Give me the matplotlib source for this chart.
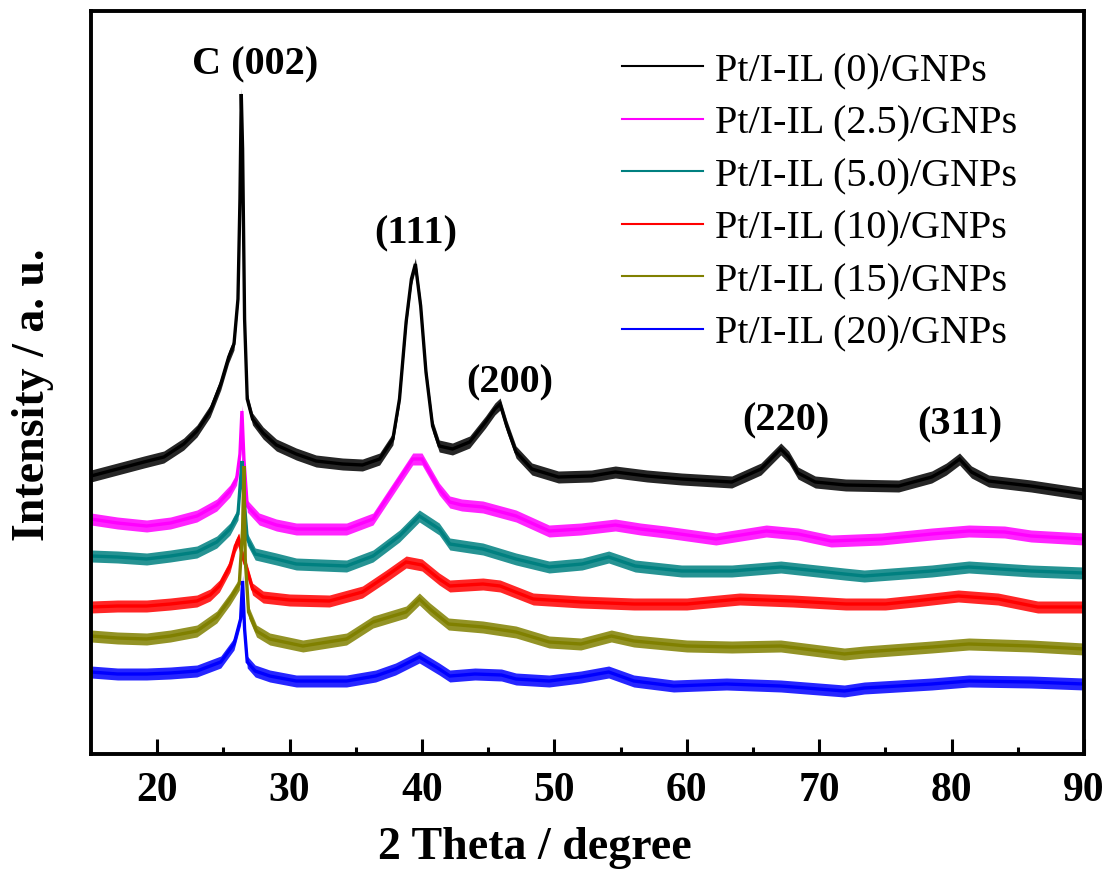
import numpy as np
import matplotlib.pyplot as plt
from matplotlib.lines import Line2D

# XRD patterns, intensity in arbitrary units (traces already offset)
theta_0 = [15.0, 17.0, 19.0, 20.5, 22.0, 23.0, 24.0, 24.8, 25.4, 25.8, 26.1, 26.25, 26.35, 26.45,
           26.6, 26.8, 27.2, 28.0, 29.0, 30.5, 32.0, 34.0, 35.5, 36.8, 37.8, 38.3, 38.8, 39.2,
           39.5, 39.9, 40.3, 40.8, 41.3, 42.3, 43.6, 44.8, 45.5, 45.9, 46.4, 47.1, 48.3, 50.3,
           52.8, 54.6, 57.0, 59.6, 63.4, 65.6, 66.5, 67.1, 67.7, 68.4, 69.7, 72.0, 76.0, 78.5,
           79.6, 80.6, 81.5, 82.8, 86.0, 88.0, 90.0]
inten_0 = [278, 285, 292, 297, 310, 323, 343, 370, 397, 410, 455, 555, 660, 605,
           435, 355, 335, 321, 309, 300, 293, 290, 289, 295, 315, 355, 432, 475,
           490, 448, 382, 328, 308, 305, 312, 332, 345, 350, 328, 302, 285, 277,
           278, 282, 278, 275, 272, 285, 297, 305, 297, 281, 272, 269, 268, 277,
           285, 295, 282, 273, 268, 264, 260]

theta_25 = [15.0, 17.0, 19.2, 21.0, 23.0, 24.5, 25.5, 26.0, 26.25, 26.4, 26.55, 26.8, 27.7, 29.0,
            30.5, 34.3, 36.3, 37.8, 39.3, 40.0, 41.3, 42.1, 43.0, 44.6, 47.1, 49.6, 52.0, 54.6,
            56.5, 58.4, 62.2, 66.0, 68.4, 70.9, 74.7, 78.5, 81.3, 84.0, 86.0, 90.0]
inten_25 = [235, 231, 228, 231, 238, 249, 263, 275, 300, 343, 295, 248, 235, 229,
            225, 225, 235, 265, 295, 295, 265, 252, 249, 247, 238, 223, 225, 229,
            225, 222, 215, 223, 220, 213, 215, 220, 223, 222, 218, 215]

theta_50 = [15.0, 17.0, 19.2, 21.0, 23.0, 24.5, 25.5, 26.1, 26.3, 26.4, 26.5, 26.8, 27.4, 29.0,
            30.5, 34.3, 36.3, 38.3, 39.8, 41.3, 42.1, 44.6, 47.1, 49.6, 52.1, 54.1, 56.1, 59.6,
            63.4, 67.1, 71.9, 73.4, 78.5, 81.3, 86.0, 90.0]
inten_50 = [198, 197, 195, 198, 202, 212, 225, 240, 275, 293, 265, 215, 200, 195,
            190, 188, 198, 218, 238, 225, 210, 205, 195, 187, 190, 197, 188, 183,
            183, 187, 180, 178, 183, 187, 183, 181]

theta_10 = [15.0, 17.0, 19.2, 21.0, 23.0, 24.0, 24.7, 25.5, 25.9, 26.15, 26.4, 26.7, 27.2, 28.0,
            30.0, 33.0, 35.5, 37.3, 38.8, 40.0, 41.3, 42.1, 44.6, 45.9, 48.4, 52.0, 56.0, 60.0,
            64.0, 68.0, 72.0, 75.0, 77.2, 80.5, 83.5, 86.5, 90.0]
inten_10 = [147, 148, 148, 150, 153, 159, 168, 188, 208, 215, 200, 188, 165, 157,
            154, 153, 162, 178, 192, 189, 175, 168, 170, 168, 155, 152, 150, 150,
            155, 153, 150, 150, 153, 158, 155, 147, 147]

theta_15 = [15.0, 17.0, 19.2, 21.0, 23.0, 24.5, 25.5, 26.2, 26.45, 26.55, 26.65, 26.9, 27.5, 28.5,
            31.0, 34.3, 36.3, 38.8, 39.8, 40.6, 42.0, 44.6, 47.1, 49.6, 52.0, 54.3, 56.0, 60.0,
            63.4, 67.1, 71.9, 73.4, 78.5, 81.3, 86.0, 90.0]
inten_15 = [118, 116, 115, 118, 123, 137, 155, 170, 225, 288, 195, 142, 123, 115,
            108, 115, 132, 142, 155, 145, 130, 127, 122, 112, 110, 118, 113, 108,
            107, 108, 100, 102, 107, 110, 108, 105]

theta_20 = [15.0, 17.0, 19.2, 21.0, 23.0, 24.8, 25.8, 26.3, 26.45, 26.6, 26.8, 27.4, 28.5, 30.5,
            34.3, 36.5, 38.0, 39.8, 41.3, 42.1, 44.0, 46.0, 47.1, 49.6, 52.0, 54.1, 56.0, 59.0,
            63.0, 67.1, 71.9, 73.4, 78.5, 81.3, 86.0, 90.0]
inten_20 = [82, 80, 80, 81, 83, 92, 110, 135, 173, 125, 92, 83, 78, 73,
            73, 78, 85, 97, 85, 78, 80, 79, 75, 73, 77, 82, 73, 68,
            70, 68, 63, 66, 70, 73, 72, 70]

labels = ["Pt/I-IL (0)/GNPs", "Pt/I-IL (2.5)/GNPs", "Pt/I-IL (5.0)/GNPs",
          "Pt/I-IL (10)/GNPs", "Pt/I-IL (15)/GNPs", "Pt/I-IL (20)/GNPs"]
colors = ["#000000", "#ff00ff", "#008080", "#ff0000", "#808000", "#0000ff"]
noise_band = [6, 6, 6, 6, 6, 6]   # half-width of the counting-noise band

peak_names = ["C (002)", "(111)", "(200)", "(220)", "(311)"]
peak_label_x = [27.4, 39.5, 46.6, 67.5, 80.6]
peak_label_y = [690, 521, 372, 334, 330]

plt.rcParams["font.family"] = ["Liberation Serif", "DejaVu Serif"]

fig = plt.figure(figsize=(11.11, 8.79), dpi=100)
ax = fig.add_axes([91 / 1111, 1 - 755 / 879, 993 / 1111, 743 / 879])

traces = [(theta_0, inten_0), (theta_25, inten_25), (theta_50, inten_50),
          (theta_10, inten_10), (theta_15, inten_15), (theta_20, inten_20)]
for (tt, ii), c, hw in zip(traces, colors, noise_band):
    tt = np.array(tt)
    ii = np.array(ii, dtype=float)
    ax.fill_between(tt, ii - hw, ii + hw, color=c, lw=0, alpha=0.85)
    ax.plot(tt, ii, color=c, lw=2.4, solid_joinstyle="miter")

for name, px, py in zip(peak_names, peak_label_x, peak_label_y):
    ax.text(px, py, name, ha="center", va="center", fontsize=29, fontweight="bold")

ax.set_xlim(15, 90)
ax.set_ylim(0, 743)
ax.set_xticks([20, 30, 40, 50, 60, 70, 80, 90])
ax.set_xticks([25, 35, 45, 55, 65, 75, 85], minor=True)
ax.set_yticks([])
ax.tick_params(axis="x", which="major", direction="in", length=11, width=2.2, pad=12,
               labelsize=30)
ax.tick_params(axis="x", which="minor", direction="in", length=5, width=2.2)
for lab in ax.get_xticklabels():
    lab.set_fontweight("bold")
for sp in ax.spines.values():
    sp.set_linewidth(2.8)

fig.text(535 / 1111, 1 - 848 / 879, "2 Theta / degree", ha="center", va="center",
         fontsize=33, fontweight="bold")
fig.text(33 / 1111, 1 - 395 / 879, "Intensity / a. u.", ha="center", va="center",
         rotation=90, fontsize=33, fontweight="bold")

handles = [Line2D([], [], color=c, lw=1.5) for c in colors]
ax.legend(handles, labels, loc="upper left", bbox_to_anchor=(602 / 1111, 1 - 33 / 879),
          bbox_transform=fig.transFigure, frameon=False, fontsize=29,
          handlelength=2.0, handletextpad=0.3, labelspacing=0.38, borderpad=0)

fig.savefig("out.png", dpi=100)
